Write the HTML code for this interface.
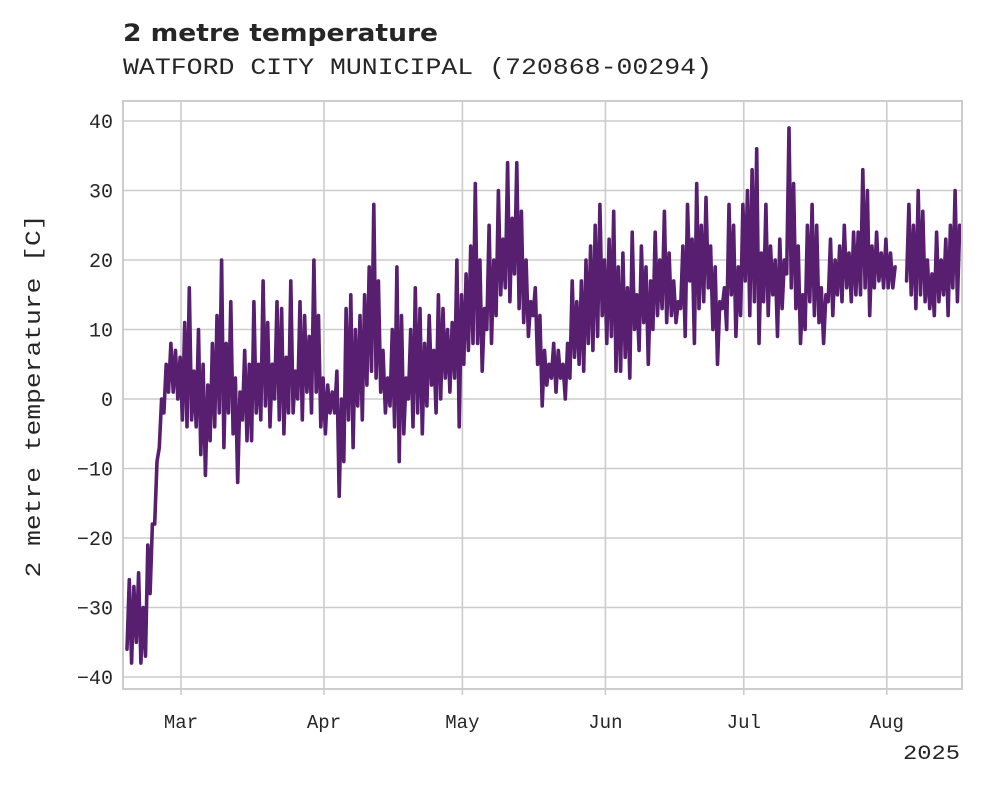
<!DOCTYPE html>
<html><head><meta charset="utf-8"><style>
body{margin:0;background:#fff;}
svg text{font-family:"Liberation Mono",monospace;fill:#262626;}
</style></head><body>
<svg id="chart" width="981" height="785" viewBox="0 0 981 785" xmlns="http://www.w3.org/2000/svg">
<text x="123" y="41" textLength="315" lengthAdjust="spacingAndGlyphs" style="font-family:'DejaVu Sans','Liberation Sans',sans-serif;font-weight:bold;font-size:24px">2 metre temperature</text>
<text x="123" y="74" textLength="589" lengthAdjust="spacingAndGlyphs" style="font-size:23px">WATFORD CITY MUNICIPAL (720868-00294)</text>
<text transform="translate(40,396) rotate(-90)" text-anchor="middle" textLength="363" lengthAdjust="spacingAndGlyphs" style="font-size:22px">2 metre temperature [C]</text>
<text x="903" y="759" textLength="57" lengthAdjust="spacingAndGlyphs" style="font-size:20px">2025</text>
<g id="grid"></g><g id="series"></g>
<rect x="123" y="101" width="839" height="588" fill="none" stroke="#cccccc" stroke-width="2"/>
</svg>
<script>
const yTicks=[-40,-30,-20,-10,0,10,20,30,40];
const monthLabels=["Mar","Apr","May","Jun","Jul","Aug"];
const monthDays=[12,43,73,104,134,165];
// daily minima and maxima, day 0 = Feb 17 2025
const dailyMin=[-36,-38,-35,-38,-37,-28,-18,-7,-2,1,1,0,
-3,-4,-3,-4,-8,-11,-6,-4,-2,-7,-2,-5,-12,-3,-6,-6,-2,-3,-1,-4,0,-3,-5,-2,-2,0,-3,1,-2,1,-4,
-5,-2,-2,-14,-9,-3,-7,-1,-3,2,4,3,1,-2,-1,-4,-9,-5,0,-4,-2,-5,-1,2,-2,0,3,1,3,-4,
5,7,8,8,4,10,8,12,15,16,14,18,13,11,9,12,5,-1,2,3,1,3,0,3,6,5,4,8,7,9,12,
8,9,4,4,6,3,10,7,11,5,10,12,13,11,12,11,13,9,17,8,13,14,16,10,5,13,10,15,9,12,
17,12,14,8,14,12,15,9,13,18,16,13,8,10,14,12,11,8,14,12,15,14,16,14,15,15,16,12,16,17,16,
16,16,null,null,17,15,13,15,14,13,12,14,15,12,16,14];
const dailyMax=[-26,-27,-25,-30,-21,-18,-9,0,5,8,7,6,
11,16,4,10,5,2,8,12,20,8,14,3,1,7,5,14,5,17,11,5,14,13,6,17,4,14,12,9,20,12,3,
2,1,4,0,13,15,10,12,15,19,28,17,7,3,10,19,12,3,10,16,13,8,12,7,15,13,10,11,20,15,
18,22,31,20,13,25,20,30,23,34,26,34,27,20,14,16,12,7,5,8,7,5,8,17,14,17,20,22,25,28,20,
23,27,19,21,16,24,15,22,19,17,24,20,27,21,17,14,22,28,23,31,25,29,22,19,14,16,28,25,19,28,
30,33,36,21,28,22,20,23,20,39,31,22,15,25,28,25,16,15,23,20,22,25,21,24,24,33,30,22,24,21,23,
21,19,null,null,28,25,30,27,20,18,24,20,23,25,30,25];
const NS="http://www.w3.org/2000/svg";
const X0=123,X1=962,Y0=101,Y1=689;
function xScale(d){return 181+(d-12)*4.613;}
function yScale(v){return 399-v*6.95;}
const grid=document.getElementById('grid');
const svg=document.getElementById('chart');
yTicks.forEach(t=>{
 const l=document.createElementNS(NS,'line');
 
 
 l.setAttribute('x1',X0);l.setAttribute('x2',X1);l.setAttribute('y1',yScale(t));l.setAttribute('y2',yScale(t));
 l.setAttribute('stroke','#cccccc');l.setAttribute('stroke-width','1.6');grid.appendChild(l);
 const tx=document.createElementNS(NS,'text');
 
 
 tx.setAttribute('x',113);tx.setAttribute('y',yScale(t)+7);tx.setAttribute('text-anchor','end');
 tx.setAttribute('style','font-size:20px');tx.textContent=t<0?'\u2212'+(-t):String(t);svg.appendChild(tx);
});
monthDays.forEach((d,i)=>{
 const l=document.createElementNS(NS,'line');
 
 
 l.setAttribute('x1',xScale(d));l.setAttribute('x2',xScale(d));l.setAttribute('y1',Y0);l.setAttribute('y2',Y1+6);
 l.setAttribute('stroke','#cccccc');l.setAttribute('stroke-width','1.6');grid.appendChild(l);
 const tx=document.createElementNS(NS,'text');
 
 
 tx.setAttribute('x',xScale(d));tx.setAttribute('y',728);tx.setAttribute('text-anchor','middle');
 tx.setAttribute('style','font-size:19px');tx.textContent=monthLabels[i];svg.appendChild(tx);
});
let d='',pen=false;
for(let i=0;i<dailyMin.length;i++){
 if(dailyMin[i]==null){pen=false;continue;}
 const a=[xScale(i+0.3),yScale(dailyMin[i])],b=[xScale(i+0.8),yScale(dailyMax[i])];
 d+=(pen?'L':'M')+a[0].toFixed(1)+' '+a[1].toFixed(1)+'L'+b[0].toFixed(1)+' '+b[1].toFixed(1);
 pen=true;
}
const p=document.createElementNS(NS,'path');


p.setAttribute('d',d);p.setAttribute('fill','none');p.setAttribute('stroke','#581f70');
p.setAttribute('stroke-width','3.6');p.setAttribute('stroke-linejoin','round');p.setAttribute('stroke-linecap','round');
document.getElementById('series').appendChild(p);
</script>
</body></html>
